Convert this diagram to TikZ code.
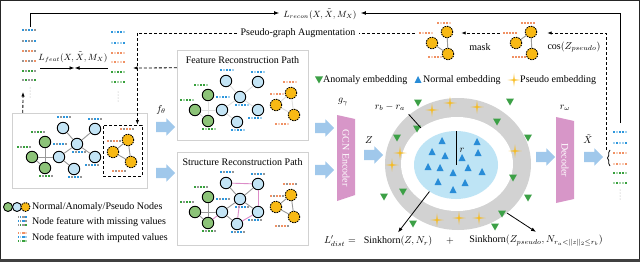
\documentclass[tikz,border=0pt]{standalone}
\usepackage{fontspec}
\setmainfont{Liberation Serif}
\usepackage{amsmath,amssymb}
\usetikzlibrary{arrows.meta,positioning,shapes.arrows,shapes.geometric,shadows,decorations.pathreplacing,calc}

\definecolor{fb}{RGB}{45,150,220}
\definecolor{fo}{RGB}{240,145,100}
\definecolor{fg}{RGB}{55,160,60}
\definecolor{fx}{RGB}{150,150,150}
\definecolor{ngreen}{RGB}{140,195,120}
\definecolor{nblue}{RGB}{195,228,245}
\definecolor{npseudo}{RGB}{248,185,20}
\definecolor{arrblue}{RGB}{160,200,235}
\definecolor{encpink}{RGB}{215,150,200}
\definecolor{ringgray}{RGB}{210,210,210}
\definecolor{diskblue}{RGB}{190,228,245}
\definecolor{tblue}{RGB}{40,140,215}
\definecolor{tgreen}{RGB}{60,160,70}
\definecolor{edgepink}{RGB}{220,140,200}

% one feature vector: five cells, the 2nd and 5th in another colour
\newcommand{\fstrip}[4]{%
  \foreach \q [count=\ci] in {#3,#4,#3,#3,#4}
    \fill[fill=\q] ({#1+3*\ci-3},{#2-1}) rectangle ++(2.2,2.2);}

% the toy graph: node prefix, colour of the odd cells
\newcommand{\smallgraph}[2]{%
  \foreach \n/\x/\y/\s/\col/\dx/\dy in {g1/45/142/greennode/fg/-14/-10, g2/32/157/greennode/fg/-15/-10,
      g3/45/168/greennode/fg/-6/8, b1/63/128/bluenode/fb/-6/-11, b2/95/129/bluenode/fb/-7/-10,
      b3/77/144/bluenode/fb/-5/8, b4/59/157/bluenode/fb/-6/-13, b5/95/157/bluenode/fb/-10/8,
      b6/74/169/bluenode/fb/-6/8, p1/128/140/pseudonode/fo/-8/-11, p2/113/152/pseudonode/fo/-6/-11,
      p3/131/162/pseudonode/fo/-19/9}{%
    \node[\s] (#1\n) at (\x,\y) {};
    \fstrip{\x+\dx}{\y+\dy}{\col}{#2}}}
\newcommand{\graphedges}[2]{%
  \foreach \ea/\eb in {g1/g3,g2/b4,g2/g3,b4/b3,b3/b1,b3/b2,b3/b5,b4/b6,p1/p2,p1/p3,p2/p3}
    \draw[#2] (#1\ea) -- (#1\eb);}

\begin{document}
\begin{tikzpicture}[x=1pt, y=-1pt, font=\fontsize{10}{12}\selectfont,
    basenode/.style={circle, draw, line width=0.9pt, minimum size=11.5pt, inner sep=0pt},
    greennode/.style={basenode, fill=ngreen},
    bluenode/.style={basenode, fill=nblue},
    pseudonode/.style={basenode, fill=npseudo, dash pattern=on 1.5pt off 1pt},
    pathbox/.style={draw=black!18, fill=white, inner sep=0pt,
      drop shadow={shadow xshift=1.3pt, shadow yshift=-1.3pt, opacity=0.3}},
    blockarr/.style={single arrow, fill=arrblue, minimum height=19pt, minimum width=17pt,
      inner xsep=0pt, inner ysep=5pt, single arrow head extend=3.5pt},
    dashline/.style={line width=0.8pt, dash pattern=on 3pt off 2pt},
    gedge/.style={line width=0.9pt, black!40},
    faint/.style={line width=0.9pt, black!12},
    pinkedge/.style={line width=0.9pt, edgepink},
    mlabel/.style={font=\fontsize{9}{10}\selectfont, inner sep=1pt},
    anom/.pic={\fill[tgreen] (-4,-3.5) -- (4,-3.5) -- (0,3.5) -- cycle;},
    norm/.pic={\fill[tblue] (-3.5,3) -- (3.5,3) -- (0,-4) -- cycle;},
    pseudo/.pic={\fill[npseudo] (0,-6.5) -- (0.7,-0.7) -- (6.5,0) -- (0.7,0.7) -- (0,6.5)
      -- (-0.7,0.7) -- (-6.5,0) -- (-0.7,-0.7) -- cycle;}
  ]
  \useasboundingbox (0,0) rectangle (640,262);
  \draw[line width=1pt, black!85] (0.5,0.5) rectangle (639.5,261.5);
  \fill[black!75] (0,258.5) rectangle (640,262);

  % feature columns
  \foreach \y/\ca/\m in {30/fb/fx, 41/fx/fb, 51/fo/fx, 61/fx/fo, 71/fg/fx, 80/fx/fg}
    \fstrip{22}{\y}{\ca}{\m};
  \foreach \y/\ca/\m in {32/fb/fb!45, 43/fb!45/fb, 53/fo/fo!45, 62/fo!45/fo, 72/fg/fg!45, 82/fg!45/fg}
    \fstrip{111}{\y}{\ca}{\m};
  \foreach \y/\ca/\m in {132/fb/fb!45, 143/fb!45/fb, 153/fo/fo!45, 164/fo!45/fo, 173/fg/fg!45, 183/fg!45/fg}
    \fstrip{613}{\y}{\ca}{\m};
  \foreach \x/\y in {30/88, 118/92, 620/190}
    \foreach \i in {0,...,3} \fill[black!35] (\x,\y+3*\i) circle (0.5);

  \node[mlabel] (lrecon) at (320,14) {$L_{recon}(X,\tilde{X},M_X)$};
  \coordinate (recL) at (30,27);
  \coordinate (recR) at (620,123);
  \draw[line width=0.9pt, -{Latex[length=5pt]}] (recL) |- ($(lrecon.west)+(-3,-1)$);
  \draw[line width=0.9pt, -{Latex[length=5pt]}] (recR) |- ($(lrecon.east)+(3,-1)$);

  \node[mlabel] (lfeat) at (73,57) {$L_{feat}(X,\tilde{X},M_X)$};
  \coordinate (c1r) at (40,68);
  \coordinate (c2l) at (108,68);
  \coordinate (fmid) at (74.5,68);
  \draw[line width=0.9pt, -{Latex[length=5pt]}] (c1r) -- (fmid);
  \draw[line width=0.9pt, -{Latex[length=5pt]}] (c2l) -- (fmid);

  % input graph
  \node[pathbox, minimum width=135, minimum height=75] (lbox) at (79.5,150.5) {};
  \smallgraph{L}{fx}
  \graphedges{L}{gedge}
  \node[draw, dashline, minimum width=39, minimum height=51, inner sep=0pt] (pbox) at (122.5,150.5) {};
  \coordinate (col1b) at (23,92);
  \draw[dashline, -{Latex[length=4.5pt]}] ($(lbox.north west)+(11,0)$) -- (col1b);

  % the two paths
  \node[pathbox, minimum width=131, minimum height=90] (fbox) at (242.5,95) {};
  \node (ftitle) at (242.5,60) {Feature Reconstruction Path};
  \begin{scope}[shift={(163,-47)}]
    \smallgraph{F}{\col!45}
    \graphedges{F}{faint}
  \end{scope}
  \node[pathbox, minimum width=131, minimum height=93] (sbox) at (242.5,198.5) {};
  \node (stitle) at (242.5,162) {Structure Reconstruction Path};
  \begin{scope}[shift={(163,55)}]
    \smallgraph{S}{fx}
    \graphedges{S}{gedge}
    \foreach \ea/\eb in {b1/b2,b2/b5,g3/b4,b5/b6,b3/b6} \draw[pinkedge] (S\ea) -- (S\eb);
  \end{scope}
  \coordinate (col2r) at (133,68);
  \draw[dashline, -{Latex[length=4.5pt]}] ($(fbox.north west)+(0,18)$) -- (col2r);

  % pseudo-graph augmentation
  \node (aug) at (298,33) {Pseudo-graph Augmentation};
  \foreach \n/\x/\y/\dx/\dy in {1/447/32/-10/-9, 2/432/43/-13/-10, 3/448/54/-20/3}{
    \node[pseudonode] (A\n) at (\x,\y) {};
    \fstrip{\x+\dx}{\y+\dy}{fo}{fo!45}
    \node[pseudonode] (B\n) at (\x+84,\y) {};
    \fstrip{\x+84+\dx}{\y+\dy}{fo}{fo}}
  \draw[gedge] (A1) -- (A3);
  \draw[gedge] (A2) -- (A3);
  \draw[gedge] (B1) -- (B2);
  \draw[gedge] (B1) -- (B3);
  \node (mask) at (480,47) {mask};
  \node (cosz) at (574,47) {$\cos(Z_{pseudo})$};
  \draw[line width=0.7pt, decorate, decoration={brace, amplitude=2.5pt}] (610,166) -- (610,150);
  \coordinate (brtip) at (606,150);
  \draw[dashline, -{Latex[length=4.5pt]}] (brtip) |- ($(B1.east)+(10,1)$);
  \draw[dashline, -{Latex[length=4.5pt]}] ($(B2.west)+(-10,-10)$) -- ($(A1.east)+(8,1)$);
  \draw[dashline] ($(A2.west)+(-11,-10)$) -- (aug.east);
  \draw[dashline, -{Latex[length=4.5pt]}] (aug.west) -| ($(pbox.north east)+(-5,0)$);

  % encoder
  \node[blockarr] (a1) at (163,127) {};
  \node[blockarr] (a2) at (163,173) {};
  \node (ftheta) at (161,110) {$f_\theta$};
  \node[blockarr] (a3) at (322,128) {};
  \node[blockarr] (a4) at (322,170) {};
  \fill[encpink] (337,115) -- (355,119) -- (355,195) -- (337,201) -- cycle;
  \node[rotate=-90, text=white] (enc) at (346,158) {GCN Encoder};
  \node (gg) at (343,102) {$g_\gamma$};
  \node[blockarr] (a5) at (371,155) {};
  \node (zz) at (369,140) {$Z$};

  % embedding space
  \node[ellipse, fill=ringgray, minimum width=146, minimum height=132, inner sep=0pt] (ringout) at (458,164) {};
  \node[ellipse, fill=white, minimum width=112, minimum height=94, inner sep=0pt] (ringin) at (457,164) {};
  \node[ellipse, fill=diskblue, minimum width=84, minimum height=68, inner sep=0pt] (disk) at (456,165) {};
  \foreach \p in {(418,103),(510,102),(417,129),(497,122),(397,138),(528,138),(384,197),
      (403,192),(513,178),(528,198),(502,214),(413,224),(495,227)}
    \pic at \p {anom};
  \foreach \p in {(442,141),(477,142),(432,152),(445,156),(462,158),(478,153),(428,167),
      (440,168),(453,173),(468,168),(482,172),(438,182),(453,190),(465,183)}
    \pic at \p {norm};
  \foreach \p in {(432,110),(450,103),(477,107),(400,153),(392,165),(515,151),(437,220),(459,218),(479,218)}
    \pic at \p {pseudo};
  \draw[line width=0.8pt] (disk.center) -- (disk.north);
  \node (rr) at (462,150) {$r$};
  \node (rbra) at (390,107) {$r_b - r_a$};
  \draw[line width=0.8pt] (rbra.south east) -- (ringin.135);

  \pic at (319,80) {anom};
  \node[anchor=west, inner sep=0pt] (lan) at (323,80) {Anomaly embedding};
  \pic at (418,80) {norm};
  \node[anchor=west, inner sep=0pt] (lno) at (423,80) {Normal embedding};
  \pic at (514,80) {pseudo};
  \node[anchor=west, inner sep=0pt] (lps) at (520,80) {Pseudo embedding};

  \node (ldist) at (340,241) {$L'_{dist} =$};
  \node (sk1) at (398,241) {Sinkhorn$(Z,N_r)$};
  \node (plus) at (450,241) {$+$};
  \node (sk2) at (536,241) {Sinkhorn$(Z_{pseudo},N_{r_a<\|z\|_2\leq r_b})$};
  \draw[line width=0.8pt, -{Latex[length=5pt]}] (disk.225) -- (sk1.north);
  \draw[line width=0.8pt, -{Latex[length=5pt]}] (ringout.-45) -- (sk2.north);

  % decoder
  \node[blockarr] (a6) at (543,157) {};
  \fill[encpink] (556,117) -- (574,121) -- (574,199) -- (556,203) -- cycle;
  \node[rotate=-90, text=white] (dec) at (565,160) {Decoder};
  \node (rw) at (565,108) {$r_\omega$};
  \node[blockarr] (a7) at (591,157) {};
  \node[inner sep=1pt] (xt) at (588,139) {$\tilde{X}$};

  % legend
  \node[greennode, minimum size=9pt] (lg1) at (8,207) {};
  \node[bluenode, minimum size=9pt] (lg2) at (17,207) {};
  \node[pseudonode, minimum size=9pt] (lg3) at (25.5,207) {};
  \node[anchor=west, inner sep=0pt] (lt1) at (32,207) {Normal/Anomaly/Pseudo Nodes};
  \begin{scope}[shift={(18,217)}, xscale=0.6]
    \fstrip{0}{0}{fx}{fb} \fstrip{0}{4}{fb}{fx} \fstrip{0}{8}{fx}{fg}
  \end{scope}
  \node[anchor=west, inner sep=0pt] (lt2) at (32,222) {Node feature with missing values};
  \begin{scope}[shift={(18,233)}, xscale=0.6]
    \fstrip{0}{0}{fo}{fo!45} \fstrip{0}{4}{fb}{fb!45} \fstrip{0}{8}{fg}{fg!45}
  \end{scope}
  \node[anchor=west, inner sep=0pt] (lt3) at (32,238) {Node feature with imputed values};
\end{tikzpicture}
\end{document}
